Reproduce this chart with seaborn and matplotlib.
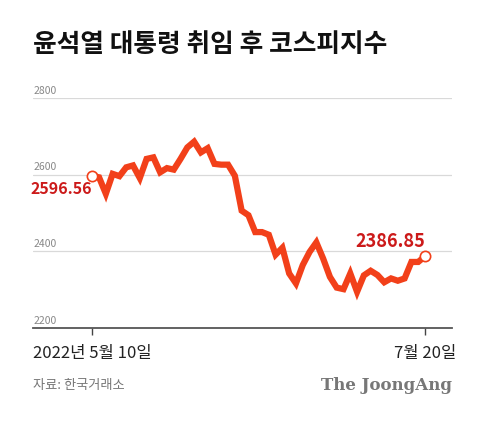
import matplotlib
matplotlib.use("Agg")
import matplotlib.pyplot as plt
import numpy as np
import pandas as pd
import seaborn as sns

# KOSPI closes, 2022-05-10 .. 2022-07-20
kospi = [2596.56, 2593, 2550, 2602, 2596, 2619, 2624, 2591, 2641, 2645,
         2606, 2617, 2613, 2641, 2671, 2686, 2658, 2669, 2628, 2626,
         2626, 2597, 2506, 2494, 2450, 2450, 2443, 2391, 2409, 2342,
         2316, 2364, 2398, 2423, 2381, 2333, 2305, 2301, 2342, 2294,
         2337, 2349, 2338, 2319, 2329, 2323, 2329, 2372, 2372, 2386.85]
yticks = [2200, 2400, 2600, 2800]
xtick_labels = ["2022년 5월 10일", "7월 20일"]

df = pd.DataFrame({"day": np.arange(len(kospi)), "kospi": kospi})

sns.set_style("white")
plt.rcParams["font.family"] = ["Noto Sans CJK KR", "DejaVu Sans"]

RED = "#f2401a"
DARK_RED = "#cc1a1a"

fig = plt.figure(figsize=(4.81, 4.28), dpi=100)
ax = fig.add_axes([0.069, 0.234, 0.871, 0.537])

for y in yticks[1:]:
    ax.axhline(y, color="#d9d9d9", lw=0.9, zorder=0)
sns.lineplot(data=df, x="day", y="kospi", ax=ax, color=RED, lw=4.5,
             solid_joinstyle="miter", zorder=2)
ends = df.iloc[[0, -1]]
ax.scatter(ends["day"], ends["kospi"], s=55, facecolor="white",
           edgecolor=RED, lw=1.2, zorder=3)
ax.text(0, kospi[0] - 12, f"{kospi[0]:.2f}", color=DARK_RED, fontsize=11.5,
        fontweight="bold", ha="right", va="top")
ax.text(49, kospi[-1] + 15, f"{kospi[-1]:.2f}", color=DARK_RED, fontsize=13,
        fontweight="bold", ha="right", va="bottom")

ax.set_xlim(-8.7, 53)
ax.set_ylim(2200, 2800)
ax.set_yticks([])
ax.set_xticks([0, 49])
ax.set_xticklabels(xtick_labels, fontsize=12, color="#222222")
ax.tick_params(axis="x", length=5, width=1, color="#444444", pad=7, bottom=True)
for y in yticks:
    ax.text(-8.7, y + 6, str(y), fontsize=7.5, color="#888888", va="bottom")
sns.despine(ax=ax, left=True, top=True, right=True)
ax.spines["bottom"].set_color("#555555")
ax.spines["bottom"].set_linewidth(1.3)
ax.set_xlabel("")
ax.set_ylabel("")

fig.text(0.069, 0.895, "윤석열 대통령 취임 후 코스피지수", fontsize=18.5,
         fontweight="bold", color="#111111", va="center")
fig.text(0.069, 0.1, "자료: 한국거래소", fontsize=9.5, color="#777777", va="center")
fig.text(0.94, 0.1, "The JoongAng", fontsize=12, color="#777777", va="center",
         ha="right", family="DejaVu Serif", fontweight="bold")

fig.savefig("out.png", dpi=100)
